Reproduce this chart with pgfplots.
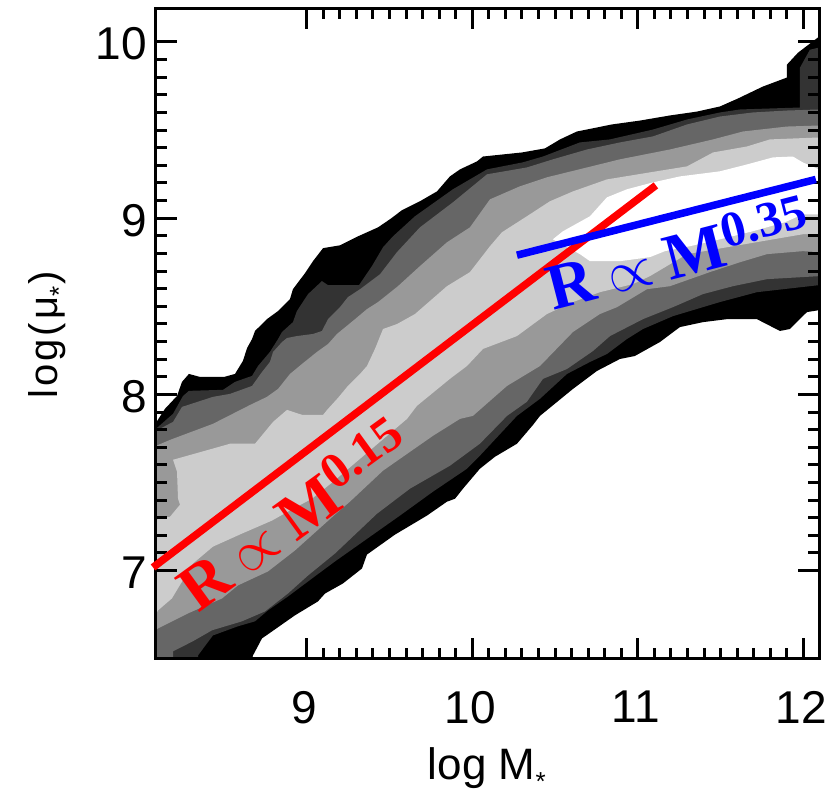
\documentclass[border=0pt]{standalone}
\usepackage{fontspec}
\usepackage{graphicx}
\usepackage{pgfplots}
\pgfplotsset{compat=1.18}
\setmainfont{Liberation Sans}
\newfontfamily\serifb[BoldFont={Liberation Serif Bold}]{Liberation Serif}
\definecolor{g1}{HTML}{333333}
\definecolor{g2}{HTML}{666666}
\definecolor{g3}{HTML}{999999}
\definecolor{g4}{HTML}{CCCCCC}
\newcommand{\lab}{\fontsize{46}{50}\selectfont}
\newcommand{\prop}{\raisebox{0.02em}{\resizebox{0.7em}{!}{$\propto$}}}
\pgfplotsset{common/.style={
  scale only axis, width=663pt, height=650.2pt,
  xmin=8.09, xmax=12.094, ymin=6.5, ymax=10.19,
}}
\begin{document}
\begin{tikzpicture}
\useasboundingbox (-156pt,-134.3pt) rectangle (680pt,658.7pt);
\begin{axis}[common, at={(0,0)}, anchor=south west,
  axis on top,
  axis line style={line width=3pt,black},
  tick style={line width=3pt,black},
  tick align=inside,
  major tick length=21pt, minor tick length=11pt,
  xtick={9,10,11,12}, ytick={7,8,9,10},
  xticklabels={9,10,11,12}, yticklabels={7,8,9,10},
  minor x tick num=9, minor y tick num=9,
  xtick pos=both, ytick pos=both,
  xticklabel pos=bottom, yticklabel pos=left,
  xticklabel style={font=\lab,inner sep=0pt,yshift=-32pt,xshift=-2pt},
  yticklabel style={font=\lab,inner sep=0pt,xshift=-9pt,yshift=-2pt},
  xlabel={log M\raisebox{-0.25em}{\fontsize{26}{26}\selectfont *}},
  ylabel={l\kern3pt o\kern3pt g\kern3pt(\kern3pt μ\raisebox{-0.25em}{\fontsize{26}{26}\selectfont *}\kern2pt)},
  xlabel style={font=\fontsize{44}{46}\selectfont,inner sep=0pt,at={(axis description cs:0.499,0)},anchor=north,yshift=-89pt},
  ylabel style={font=\fontsize{40}{46}\selectfont,inner sep=0pt,at={(axis description cs:0,0.498)},anchor=south,yshift=88pt},
]
% level 1: black
\addplot[fill=black,draw=none,no marks] coordinates {
(8.09,7.839)(8.144,7.918)(8.217,7.991)(8.247,8.071)(8.289,8.116)(8.356,8.099)(8.501,8.099)(8.567,8.116)(8.615,8.190)(8.640,8.263)(8.670,8.314)(8.688,8.360)(8.760,8.427)(8.827,8.473)(8.899,8.541)(8.917,8.597)(8.990,8.688)(9.038,8.756)(9.099,8.830)(9.201,8.846)(9.310,8.897)(9.431,8.948)(9.503,8.994)(9.575,9.045)(9.684,9.096)(9.787,9.152)(9.865,9.237)(9.926,9.277)(10.028,9.322)(10.065,9.350)(10.300,9.373)(10.439,9.396)(10.530,9.447)(10.632,9.492)(10.844,9.532)(11.013,9.554)(11.194,9.583)(11.357,9.605)(11.496,9.634)(11.604,9.679)(11.755,9.747)(11.900,9.798)(11.900,9.871)(11.967,9.939)(12.094,10.030)
(12.094,8.478)(12.021,8.467)(11.918,8.371)(11.858,8.360)(11.719,8.427)(11.538,8.427)(11.393,8.410)(11.254,8.382)(11.133,8.297)(10.982,8.218)(10.892,8.201)(10.753,8.133)(10.608,8.031)(10.409,7.878)(10.367,7.827)(10.270,7.720)(10.137,7.646)(10.046,7.578)(9.944,7.465)(9.896,7.408)(9.847,7.391)(9.726,7.312)(9.533,7.204)(9.364,7.091)(9.334,7.012)(9.219,6.927)(9.111,6.870)(9.068,6.825)(8.929,6.746)(8.791,6.655)(8.730,6.615)(8.676,6.519)(8.67,6.5)(8.09,6.5)
} --cycle;
% level 2
\addplot[fill=g1,draw=none,no marks] coordinates {
(8.09,7.805)(8.193,7.890)(8.253,7.991)(8.289,8.020)(8.495,8.026)(8.567,8.071)(8.670,8.105)(8.706,8.161)(8.778,8.241)(8.827,8.314)(8.851,8.354)(8.917,8.410)(8.941,8.473)(9.008,8.569)(9.092,8.643)(9.129,8.620)(9.316,8.620)(9.394,8.728)(9.461,8.835)(9.521,8.897)(9.654,9.011)(9.883,9.164)(10.089,9.277)(10.306,9.317)(10.427,9.350)(10.650,9.430)(10.831,9.447)(11.091,9.503)(11.297,9.560)(11.496,9.600)(11.617,9.617)(11.979,9.628)(11.979,9.854)(12.039,9.956)(12.094,9.968)
(12.094,8.620)(11.719,8.580)(11.496,8.524)(11.212,8.444)(11.031,8.371)(10.934,8.314)(10.813,8.229)(10.711,8.184)(10.572,8.116)(10.409,7.975)(10.270,7.878)(10.046,7.652)(9.968,7.578)(9.763,7.448)(9.563,7.312)(9.171,7.052)(9.032,6.955)(8.887,6.853)(8.766,6.774)(8.688,6.712)(8.585,6.684)(8.434,6.632)(8.344,6.519)(8.344,6.5)(8.09,6.5)
} --cycle;
% level 3
\addplot[fill=g2,draw=none,no marks] coordinates {
(8.09,7.793)(8.193,7.844)(8.247,7.929)(8.434,7.986)(8.537,8.003)(8.670,8.048)(8.730,8.127)(8.778,8.184)(8.797,8.241)(8.851,8.297)(8.881,8.320)(8.941,8.331)(9.038,8.343)(9.092,8.360)(9.129,8.427)(9.201,8.495)(9.249,8.552)(9.322,8.597)(9.443,8.682)(9.545,8.807)(9.684,8.948)(9.883,9.090)(10.089,9.249)(10.330,9.288)(10.487,9.334)(10.693,9.390)(10.892,9.430)(11.091,9.464)(11.297,9.532)(11.496,9.577)(11.695,9.600)(11.900,9.611)(12.094,9.617)
(12.094,8.671)(11.780,8.654)(11.574,8.614)(11.393,8.569)(11.212,8.495)(11.031,8.427)(10.832,8.331)(10.729,8.246)(10.572,8.144)(10.427,8.088)(10.330,7.958)(10.210,7.878)(10.046,7.720)(9.865,7.595)(9.624,7.465)(9.425,7.323)(9.171,7.097)(9.008,6.972)(8.887,6.870)(8.748,6.768)(8.609,6.712)(8.428,6.661)(8.313,6.599)(8.193,6.542)(8.193,6.5)(8.09,6.5)
} --cycle;
% level 4
\addplot[fill=g3,draw=none,no marks] coordinates {
(8.09,7.708)(8.175,7.742)(8.434,7.833)(8.658,7.940)(8.760,7.986)(8.827,8.031)(8.899,8.116)(8.972,8.173)(9.062,8.241)(9.129,8.286)(9.183,8.343)(9.292,8.427)(9.364,8.484)(9.431,8.524)(9.551,8.614)(9.684,8.728)(9.847,8.863)(9.986,8.948)(10.107,9.107)(10.288,9.181)(10.451,9.232)(10.693,9.288)(10.892,9.334)(11.194,9.390)(11.454,9.447)(11.635,9.492)(11.900,9.520)(12.094,9.526)
(12.094,8.807)(11.997,8.813)(11.780,8.796)(11.617,8.750)(11.435,8.694)(11.194,8.614)(11.055,8.597)(10.874,8.495)(10.771,8.456)(10.608,8.354)(10.409,8.161)(10.210,8.048)(10.004,7.878)(9.926,7.861)(9.763,7.765)(9.624,7.674)(9.461,7.567)(9.261,7.391)(9.171,7.318)(8.929,7.114)(8.766,6.995)(8.585,6.916)(8.489,6.842)(8.283,6.757)(8.102,6.672)(8.09,6.661)
} --cycle;
% level 5
\addplot[fill=g4,draw=none,no marks] coordinates {
(8.09,7.289)(8.175,7.306)(8.235,7.374)(8.223,7.408)(8.217,7.561)(8.193,7.629)(8.428,7.691)(8.537,7.720)(8.688,7.720)(8.797,7.844)(8.881,7.912)(8.972,7.884)(9.099,7.884)(9.129,7.918)(9.189,7.980)(9.249,8.048)(9.322,8.116)(9.364,8.161)(9.412,8.257)(9.461,8.371)(9.545,8.399)(9.654,8.456)(9.847,8.614)(9.986,8.694)(10.107,8.841)(10.179,8.920)(10.330,9.011)(10.469,9.096)(10.608,9.152)(10.813,9.220)(11.073,9.260)(11.297,9.294)(11.454,9.373)(11.659,9.407)(11.798,9.447)(12.094,9.458)
(12.094,8.909)(11.997,8.909)(11.297,8.796)(11.073,8.671)(10.970,8.626)(10.771,8.580)(10.608,8.524)(10.451,8.456)(10.270,8.331)(10.065,8.258)(9.968,8.161)(9.865,8.088)(9.666,7.935)(9.606,7.861)(9.159,7.504)(9.032,7.408)(8.887,7.335)(8.791,7.284)(8.609,7.210)(8.434,7.136)(8.313,7.040)(8.186,6.842)(8.102,6.774)(8.09,6.751)
} --cycle;
% level 6: white
\addplot[fill=white,draw=none,no marks] coordinates {
(10.487,8.880)(10.548,8.926)(10.711,9.011)(10.813,9.118)(10.934,9.164)(11.091,9.203)(11.254,9.237)(11.496,9.266)(11.659,9.305)(11.816,9.345)(11.936,9.350)(11.997,9.316)(12.094,9.277)
(12.094,9.022)(11.997,9.022)(11.888,8.977)(11.695,8.926)(11.496,8.880)(11.315,8.841)(11.164,8.813)(11.073,8.779)(10.892,8.756)(10.711,8.756)(10.650,8.796)(10.572,8.835)
} --cycle;
\end{axis}
\begin{axis}[common, at={(0,0)}, anchor=south west, hide axis, clip=false]
\addplot[red,line width=7.5pt,no marks] coordinates {(8.072,7.018)(11.109,9.186)};
\addplot[blue,line width=7.5pt,no marks] coordinates {(10.270,8.790)(12.075,9.220)};
\node[red,anchor=base west,rotate=36,inner sep=0pt,font=\serifb\fontsize{65}{65}\selectfont] at (axis cs:8.344,6.757)
  {\textbf{R}\kern14pt\prop\kern14pt\textbf{M\raisebox{0.27em}{\fontsize{50}{50}\selectfont 0.15}}};
\node[blue,anchor=base west,rotate=14.5,inner sep=0pt,font=\serifb\fontsize{65}{65}\selectfont] at (axis cs:10.487,8.473)
  {\textbf{R}\kern14pt\prop\kern14pt\textbf{M\raisebox{0.27em}{\fontsize{50}{50}\selectfont 0.35}}};
\end{axis}
\end{tikzpicture}
\end{document}
